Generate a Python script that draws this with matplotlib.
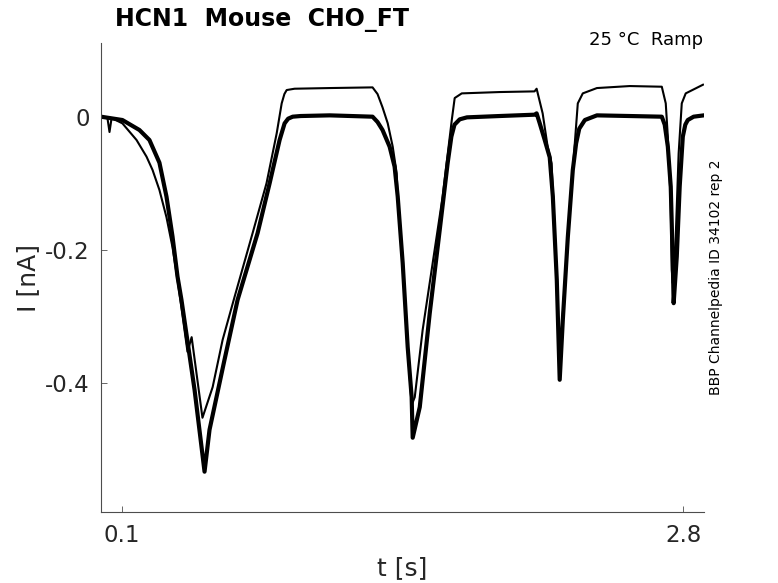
import numpy as np
from matplotlib import pyplot as plt

# trace 1: the lower (thick) recording
t_low = [0.000, 0.103, 0.185, 0.233, 0.281, 0.315, 0.344, 0.368, 0.387, 0.450, 0.498,
         0.522, 0.594, 0.657, 0.753, 0.811, 0.859, 0.883, 0.900, 0.922, 0.960, 1.100, 1.306,
         1.330, 1.354, 1.388, 1.412, 1.427, 1.451, 1.475, 1.494, 1.499,
         1.533, 1.581, 1.629, 1.667, 1.685, 1.700, 1.725, 1.760, 1.917, 2.085, 2.095,
         2.110, 2.134, 2.158, 2.173, 2.192, 2.206,
         2.221, 2.245, 2.269, 2.285, 2.300, 2.327, 2.385, 2.543, 2.697,
         2.711, 2.726, 2.740, 2.750, 2.754,
         2.769, 2.783, 2.798, 2.810, 2.822, 2.850, 2.899]
i_low = [0.000, -0.005, -0.020, -0.035, -0.069, -0.120, -0.180, -0.240, -0.275, -0.410, -0.533,
         -0.470, -0.365, -0.275, -0.175, -0.100, -0.035, -0.010, -0.003, 0.000, 0.001, 0.002, 0.000,
         -0.008, -0.020, -0.045, -0.075, -0.120, -0.220, -0.346, -0.421, -0.482,
         -0.436, -0.295, -0.170, -0.070, -0.030, -0.012, -0.004, -0.001, 0.001, 0.003, 0.005,
         -0.010, -0.035, -0.061, -0.120, -0.245, -0.395,
         -0.305, -0.181, -0.080, -0.040, -0.018, -0.005, 0.002, 0.001, 0.000,
         -0.012, -0.045, -0.105, -0.220, -0.280,
         -0.210, -0.105, -0.030, -0.012, -0.005, 0.000, 0.002]

# trace 2: the upper (thin) recording
t_up = [0.000, 0.031, 0.041, 0.051, 0.103, 0.171, 0.219, 0.248, 0.281, 0.315, 0.344,
        0.368, 0.392, 0.416, 0.436, 0.488, 0.537, 0.585, 0.642, 0.729, 0.796,
        0.845, 0.869, 0.882, 0.893, 0.931, 1.100, 1.306,
        1.330, 1.354, 1.379, 1.403, 1.422, 1.427, 1.451, 1.475, 1.494,
        1.509, 1.547, 1.595, 1.643, 1.687, 1.701, 1.735, 1.917, 2.085, 2.095,
        2.124, 2.148, 2.167, 2.182, 2.196, 2.206,
        2.216, 2.240, 2.269, 2.293, 2.317, 2.385, 2.543, 2.697,
        2.716, 2.726, 2.740, 2.745, 2.750,
        2.764, 2.778, 2.793, 2.812, 2.895]
i_up = [0.000, -0.002, -0.023, -0.002, -0.010, -0.035, -0.060, -0.080, -0.110, -0.151, -0.196,
        -0.245, -0.298, -0.353, -0.331, -0.452, -0.406, -0.335, -0.271, -0.175, -0.100,
        -0.025, 0.020, 0.034, 0.040, 0.042, 0.043, 0.044,
        0.034, 0.014, -0.010, -0.045, -0.085, -0.120, -0.220, -0.346, -0.433,
        -0.421, -0.320, -0.220, -0.120, -0.005, 0.028, 0.035, 0.037, 0.038, 0.042,
        0.005, -0.045, -0.070, -0.170, -0.295, -0.353,
        -0.320, -0.205, -0.080, 0.020, 0.035, 0.043, 0.046, 0.045,
        0.020, -0.030, -0.130, -0.230, -0.250,
        -0.180, -0.055, 0.020, 0.035, 0.048]

x_ticks = [0.1, 2.8]
y_ticks = [-0.4, -0.2, 0]

fig = plt.figure(figsize=(7.78, 5.83), dpi=100)
ax = fig.add_axes([0.1298, 0.1218, 0.7751, 0.8044])

ax.plot(t_up, i_up, color='black', lw=1.5)
ax.plot(t_low, i_low, color='black', lw=3.0)

ax.set_xlim(0, 2.9)
ax.set_ylim(-0.5935, 0.1106)
ax.set_xticks(x_ticks)
ax.set_xticklabels(['0.1', '2.8'])
ax.set_yticks(y_ticks)
ax.set_yticklabels(['-0.4', '-0.2', '0'])

for side in ['top', 'right']:
    ax.spines[side].set_visible(False)
for side in ['left', 'bottom']:
    ax.spines[side].set_color('#4d4d4d')
    ax.spines[side].set_linewidth(0.8)
ax.tick_params(direction='in', length=4, width=0.6, color='#4d4d4d',
               labelsize=16.5, labelcolor='#262626')
ax.tick_params(axis='x', pad=9)
ax.tick_params(axis='y', pad=8)

ax.set_xlabel('t [s]', fontsize=18, color='#262626', labelpad=6)
ax.set_ylabel('I [nA]', fontsize=18, color='#262626', labelpad=4)

fig.text(115 / 778, 1 - 20 / 583, 'HCN1  Mouse  CHO_FT', fontsize=17,
         fontweight='bold', ha='left', va='center')
fig.text(703 / 778, 1 - 40 / 583, '25 °C  Ramp', fontsize=13,
         ha='right', va='center')
fig.text(716 / 778, 1 - 277 / 583, 'BBP Channelpedia ID 34102 rep 2',
         fontsize=10, rotation=90, ha='center', va='center')

fig.savefig('out.png', dpi=100)
